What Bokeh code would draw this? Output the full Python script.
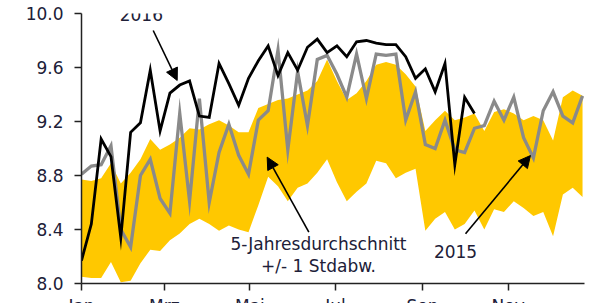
from bokeh.plotting import figure
from bokeh.models import Range1d, FixedTicker, PrintfTickFormatter, Label, Arrow, NormalHead
from bokeh.embed import file_html
from bokeh.resources import INLINE

# ---- data (weekly index 0..51) ----
weeks = list(range(52))

band_upper = [8.77, 8.76, 8.78, 8.89, 8.74, 8.82, 8.92, 9.07, 8.99, 9.03,
              9.08, 9.15, 9.14, 9.18, 9.21, 9.17, 9.12, 9.12, 9.30, 9.33,
              9.36, 9.37, 9.40, 9.43, 9.50, 9.66, 9.50, 9.36, 9.41, 9.50,
              9.62, 9.64, 9.62, 9.55, 9.46, 9.13, 9.21, 9.28, 9.21, 9.23,
              9.26, 9.13, 9.27, 9.29, 9.26, 9.21, 9.24, 9.21, 9.06, 9.38,
              9.43, 9.39]

band_lower = [8.05, 8.04, 8.04, 8.16, 8.01, 8.02, 8.15, 8.25, 8.24, 8.32,
              8.37, 8.44, 8.48, 8.44, 8.39, 8.43, 8.40, 8.38, 8.58, 8.79,
              8.72, 8.61, 8.71, 8.74, 8.82, 8.92, 8.75, 8.61, 8.68, 8.74,
              8.91, 8.89, 8.78, 8.82, 8.85, 8.39, 8.48, 8.53, 8.40, 8.44,
              8.54, 8.40, 8.55, 8.53, 8.61, 8.56, 8.50, 8.53, 8.35, 8.66,
              8.71, 8.64]

y2015 = [8.81, 8.87, 8.88, 9.02, 8.40, 8.27, 8.80, 8.92, 8.63, 8.52,
         9.26, 8.61, 9.37, 8.60, 8.97, 9.18, 8.95, 8.81, 9.21, 9.28,
         9.73, 8.99, 9.57, 9.17, 9.66, 9.69, 9.55, 9.38, 9.70, 9.37,
         9.70, 9.69, 9.70, 9.21, 9.42, 9.03, 9.00, 9.21, 8.99, 8.97,
         9.15, 9.17, 9.35, 9.21, 9.38, 9.08, 8.93, 9.28, 9.42, 9.24,
         9.19, 9.39]

y2016 = [8.17, 8.44, 9.07, 8.94, 8.34, 9.12, 9.19, 9.58, 9.13, 9.41,
         9.47, 9.50, 9.24, 9.23, 9.63, 9.48, 9.32, 9.52, 9.65, 9.76,
         9.54, 9.71, 9.58, 9.75, 9.81, 9.71, 9.76, 9.68, 9.79, 9.80,
         9.78, 9.77, 9.77, 9.68, 9.52, 9.59, 9.42, 9.63, 8.88, 9.38,
         9.26]

month_labels = ["Jan", "Mrz", "Mai", "Jul", "Sep", "Nov"]
month_days = [0, 59, 120, 181, 243, 304]
month_pos = [d / 7 for d in month_days]

y_ticks = [8.0, 8.4, 8.8, 9.2, 9.6, 10.0]

FONT = "DejaVu Sans"
TXT = "#202038"

p = figure(width=592, height=318, output_backend="svg", toolbar_location=None,
           x_range=Range1d(0, 51.2), y_range=Range1d(8.0, 10.0),
           min_border_left=81, min_border_right=8, min_border_top=13,
           min_border_bottom=35, background_fill_color="white",
           border_fill_color="white")
p.outline_line_color = None
p.grid.visible = False

# band and lines
p.varea(x=weeks, y1=band_lower, y2=band_upper, fill_color="#FFC800")
p.line(weeks, y2015, line_color="#8a8a8a", line_width=3.3, line_join="miter")
p.line(weeks[:len(y2016)], y2016, line_color="black", line_width=2.8, line_join="miter")

# y axis
ya = p.yaxis[0]
ya.ticker = FixedTicker(ticks=y_ticks)
ya.formatter = PrintfTickFormatter(format="%.1f")
ya.major_tick_out = 7
ya.major_tick_in = 0
ya.minor_tick_line_color = None
ya.axis_line_width = 1.5
ya.axis_line_color = "#222222"
ya.major_tick_line_width = 1.5
ya.major_tick_line_color = "#222222"
ya.major_label_standoff = 11
ya.major_label_text_font = FONT
ya.major_label_text_font_size = "17px"
ya.major_label_text_color = TXT

# x axis
xa = p.xaxis[0]
xa.ticker = FixedTicker(ticks=month_pos)
xa.major_label_overrides = {pos: lab for pos, lab in zip(month_pos, month_labels)}
xa.major_tick_out = 7
xa.major_tick_in = 0
xa.minor_tick_line_color = None
xa.axis_line_width = 1.5
xa.axis_line_color = "#222222"
xa.major_tick_line_width = 1.5
xa.major_tick_line_color = "#222222"
xa.major_label_standoff = 5
xa.major_label_text_font = FONT
xa.major_label_text_font_size = "17px"
xa.major_label_text_color = TXT

# annotations
def lbl(x, y, t):
    p.add_layout(Label(x=x, y=y, text=t, text_font=FONT, text_font_size="17px",
                       text_color=TXT, text_align="center", text_baseline="middle"))

lbl(6.09, 9.996, "2016")
lbl(24.12, 8.289, "5-Jahresdurchschnitt")
lbl(24.12, 8.133, "+/- 1 Stdabw.")
lbl(38.07, 8.239, "2015")

def arrow(x0, y0, x1, y1):
    p.add_layout(Arrow(end=NormalHead(size=12, fill_color="black", line_color="black", line_width=1),
                       x_start=x0, y_start=y0, x_end=x1, y_end=y1,
                       line_color="black", line_width=1.6))

arrow(7.30, 9.874, 9.74, 9.504)
arrow(23.14, 8.380, 18.90, 8.936)
arrow(39.09, 8.368, 45.70, 8.948)

open("out.html", "w").write(file_html(p, INLINE))
